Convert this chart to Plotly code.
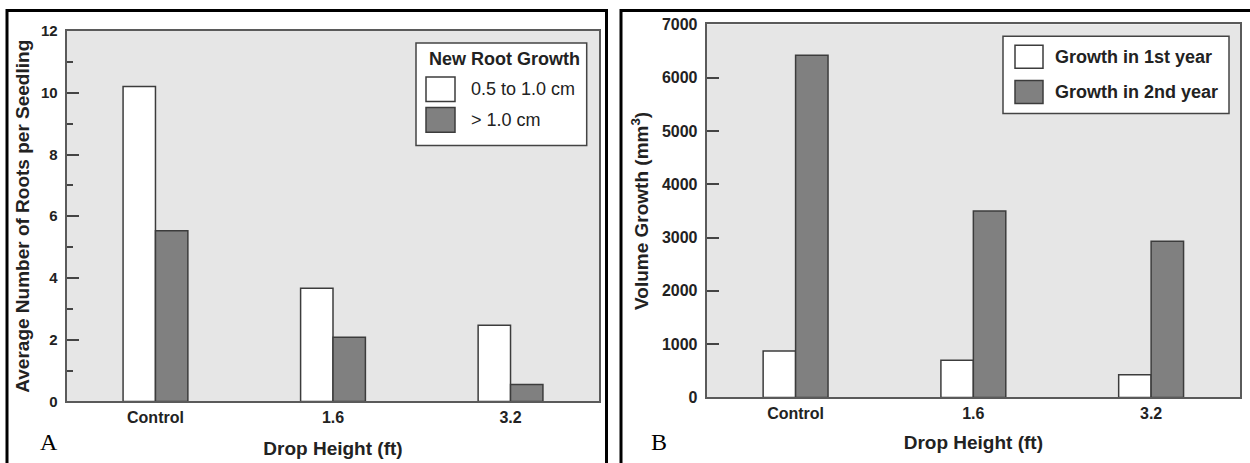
import plotly.graph_objects as go

# ---------------- data ----------------
categories = ["Control", "1.6", "3.2"]

a_series_names = ["0.5 to 1.0 cm", "> 1.0 cm"]
a_small_roots = [10.2, 3.67, 2.47]
a_large_roots = [5.53, 2.08, 0.55]
a_legend_title = "New Root Growth"

b_series_names = ["Growth in 1st year", "Growth in 2nd year"]
b_year1 = [870, 700, 425]
b_year2 = [6420, 3500, 2930]

a_yticks = [0, 2, 4, 6, 8, 10, 12]
b_yticks = [0, 1000, 2000, 3000, 4000, 5000, 6000, 7000]

# ---------------- styling ----------------
W, H = 1250, 463
FONT = "Liberation Sans"
WHITE_FILL = "#ffffff"
GRAY_FILL = "#808080"
EDGE = "#3c3c3c"
PLOT_BG = "#e6e6e6"
AXIS = "#5a5a5a"
TXT = "#222222"
fills = [WHITE_FILL, GRAY_FILL]

# the photographed page shows the figure slightly shrunk vertically; compensate
Y_OFF, Y_SCALE = 8.7, 0.96


def px(x):
    return x / W


def py(y):
    ys = (y - Y_OFF) / Y_SCALE
    return 1 - ys / H


fig = go.Figure()

for name, vals, fc in zip(a_series_names, [a_small_roots, a_large_roots], fills):
    fig.add_trace(go.Bar(x=categories, y=vals, name=name, marker=dict(color=fc, line=dict(color=EDGE, width=1.5)),
                         xaxis="x", yaxis="y", showlegend=False))
for name, vals, fc in zip(b_series_names, [b_year1, b_year2], fills):
    fig.add_trace(go.Bar(x=categories, y=vals, name=name, marker=dict(color=fc, line=dict(color=EDGE, width=1.5)),
                         xaxis="x2", yaxis="y2", showlegend=False))

common_x = dict(type="category", range=[-0.5, 2.5], showline=True, mirror=True, linecolor=AXIS, linewidth=2,
                ticks="", showgrid=False, zeroline=False,
                tickfont=dict(family=FONT, size=16, color=TXT, weight="bold"))
common_y = dict(showline=True, mirror=True, linecolor=AXIS, linewidth=2, ticks="inside", ticklen=12,
                tickwidth=1.5, tickcolor="#444", showgrid=False, zeroline=False, ticklabelstandoff=4)

fig.update_layout(
    width=W, height=H, margin=dict(l=0, r=0, t=0, b=0),
    paper_bgcolor="white", plot_bgcolor=PLOT_BG,
    barmode="group", bargap=0.635, bargroupgap=0,
    showlegend=False,
    xaxis=dict(domain=[px(66.7), px(599.3)], anchor="y",
               title=dict(text="Drop Height (ft)", standoff=17,
                          font=dict(family=FONT, size=19, color=TXT, weight="bold")),
               **common_x),
    yaxis=dict(domain=[py(400.7), py(30.7)], anchor="x", range=[0, 12], tickvals=a_yticks,
               minor=dict(dtick=1, ticks="inside", ticklen=6, tickwidth=1.5, tickcolor="#444"),
               tickfont=dict(family=FONT, size=15, color=TXT, weight="bold"),
               title=dict(text="Average Number of Roots per Seedling", standoff=6,
                          font=dict(family=FONT, size=19, color=TXT, weight="bold")),
               **common_y),
    xaxis2=dict(domain=[px(706.7), px(1240)], anchor="y2",
                title=dict(text="Drop Height (ft)", standoff=15,
                           font=dict(family=FONT, size=19, color=TXT, weight="bold")),
                **common_x),
    yaxis2=dict(domain=[py(396.7), py(24)], anchor="x2", range=[0, 7000], tickvals=b_yticks,
                tickfont=dict(family=FONT, size=16, color=TXT, weight="bold"),
                title=dict(text="Volume Growth (mm<sup>3</sup>)", standoff=8,
                           font=dict(family=FONT, size=19, color=TXT, weight="bold")),
                **common_y),
)

shapes = []
annotations = []

# panel frames (top edge kept just inside the figure)
top_frame = 1 - 1.6 / H
shapes.append(dict(type="rect", xref="paper", yref="paper", x0=px(7), x1=px(606.5), y0=-0.05, y1=top_frame,
                   line=dict(color="black", width=3), fillcolor="rgba(0,0,0,0)", layer="above"))
shapes.append(dict(type="rect", xref="paper", yref="paper", x0=px(621), x1=1.05, y0=-0.05, y1=top_frame,
                   line=dict(color="black", width=3), fillcolor="rgba(0,0,0,0)", layer="above"))

# legend A
shapes.append(dict(type="rect", xref="paper", yref="paper", x0=px(416), x1=px(586.7), y0=py(145), y1=py(42.7),
                   line=dict(color="#444", width=1.5), fillcolor="white", layer="above"))
annotations.append(dict(xref="paper", yref="paper", x=px(426.7), y=py(59), xanchor="left", yanchor="middle",
                        text=a_legend_title, showarrow=False,
                        font=dict(family=FONT, size=18, color=TXT, weight="bold")))
a_rows = [(76.7, 101), (107, 131.7)]
for (y0, y1), name, fc in zip(a_rows, a_series_names, fills):
    shapes.append(dict(type="rect", xref="paper", yref="paper", x0=px(426), x1=px(455), y0=py(y1), y1=py(y0),
                       line=dict(color=EDGE, width=1.5), fillcolor=fc, layer="above"))
    annotations.append(dict(xref="paper", yref="paper", x=px(469), y=py((y0 + y1) / 2), xanchor="left",
                            yanchor="middle", text=name, showarrow=False,
                            font=dict(family=FONT, size=18, color=TXT)))

# legend B
shapes.append(dict(type="rect", xref="paper", yref="paper", x0=px(1003), x1=px(1229), y0=py(113), y1=py(36),
                   line=dict(color="#444", width=1.5), fillcolor="white", layer="above"))
b_rows = [(45, 68), (80, 103)]
for (y0, y1), name, fc in zip(b_rows, b_series_names, fills):
    shapes.append(dict(type="rect", xref="paper", yref="paper", x0=px(1015), x1=px(1043), y0=py(y1), y1=py(y0),
                       line=dict(color=EDGE, width=1.5), fillcolor=fc, layer="above"))
    annotations.append(dict(xref="paper", yref="paper", x=px(1053), y=py((y0 + y1) / 2), xanchor="left",
                            yanchor="middle", text=name, showarrow=False,
                            font=dict(family=FONT, size=18, color=TXT, weight="bold")))

# panel letters
annotations.append(dict(xref="paper", yref="paper", x=px(48.5), y=py(441.5), xanchor="center", yanchor="middle",
                        text="A", showarrow=False, font=dict(family="Liberation Serif", size=24, color="black")))
annotations.append(dict(xref="paper", yref="paper", x=px(659), y=py(441.5), xanchor="center", yanchor="middle",
                        text="B", showarrow=False, font=dict(family="Liberation Serif", size=24, color="black")))

fig.update_layout(shapes=shapes, annotations=annotations)
fig.write_html("out.html",
               config=dict(displayModeBar=False, responsive=False),
               post_script="var s=document.createElement('style');"
                           "s.textContent='html,body{margin:0;padding:0;overflow:hidden;height:463px;}';"
                           "document.head.appendChild(s);")
